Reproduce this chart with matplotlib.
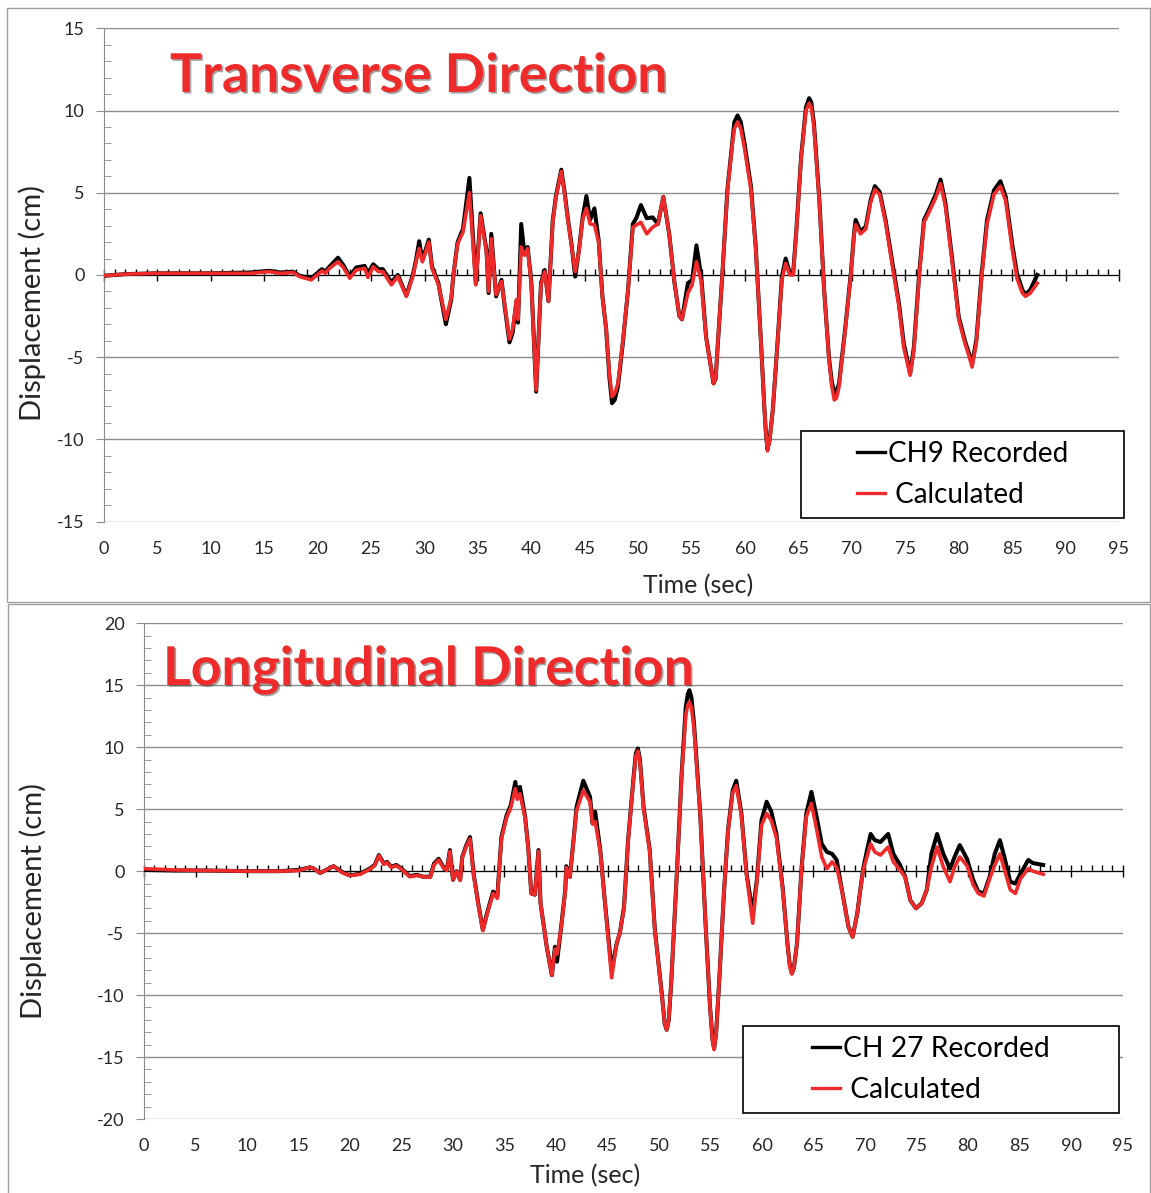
import numpy as np
import matplotlib.pyplot as plt
import matplotlib.patheffects as pe
from matplotlib.patches import Rectangle
from matplotlib.ticker import MultipleLocator

plt.rcParams['font.family'] = ['Lato', 'DejaVu Sans']
plt.rcParams['axes.unicode_minus'] = False

# ---- transverse direction (CH9) ----
trans_t = [0, 2, 5, 10, 13.7, 14.5, 15.5, 16.5, 17.7, 18.3,
           19.4, 20.4, 20.7, 21.1, 21.9, 22.4, 23.0, 23.6, 24.4, 24.7,
           25.2, 25.7, 26.1, 26.9, 27.5, 28.3, 28.9, 29.2, 29.5, 29.8,
           30.4, 30.7, 31.3, 31.6, 32.0, 32.5, 32.7, 33.1, 33.6, 34.2,
           34.8, 35.25, 35.8, 36.0, 36.25, 36.7, 37.2, 37.5, 37.95, 38.25,
           38.6, 38.75, 39.05, 39.35, 39.65, 40.0, 40.45, 40.9, 41.25, 41.6,
           42.0, 42.3, 42.8, 43.1, 43.4, 43.75, 44.1, 44.45, 44.8, 45.15,
           45.5, 45.9, 46.3, 46.65, 47.0, 47.55, 48.1, 48.55, 49.05, 49.5,
           49.85, 50.25, 50.8, 51.35, 51.85, 52.35, 52.9, 53.4, 53.85, 54.1,
           54.65, 55.05, 55.45, 55.9, 56.35, 57.05, 57.45, 57.9, 58.35, 58.85,
           59.3, 59.95, 60.55, 61.0, 61.5, 61.8, 62.1, 62.6, 63.05, 63.45,
           63.8, 64.2, 64.5, 64.8, 65.25, 65.7, 66.0, 66.45, 66.95, 67.4,
           67.85, 68.35, 68.8, 69.4, 69.9, 70.2, 70.35, 70.8, 71.3, 71.75,
           72.15, 72.6, 73.15, 73.8, 74.4, 74.85, 75.2, 75.45, 75.8, 76.3,
           76.75, 77.2, 77.85, 78.3, 78.75, 79.4, 80.0, 80.6, 80.95, 81.25,
           81.65, 82.15, 82.65, 83.3, 83.9, 84.4, 85.0, 85.45, 85.95, 86.25,
           86.7, 87.35,
           # extra readings around the big peaks
           59.0, 59.6, 61.95, 62.3, 66.2, 68.1, 68.55, 47.3, 47.8, 57.25]
trans_rec = [-0.05, 0.05, 0.1, 0.1, 0.15, 0.2, 0.25, 0.15, 0.2, -0.05,
             -0.2, 0.35, 0.2, 0.5, 1.05, 0.6, -0.1, 0.45, 0.55, 0.1,
             0.65, 0.35, 0.35, -0.45, 0.0, -1.25, 0.0, 0.9, 2.05, 0.9,
             2.15, 0.5, -0.5, -1.6, -3.0, -1.5, 0.0, 2.0, 2.8, 5.9,
             -0.5, 3.75, 1.5, -1.1, 2.5, -1.3, -0.3, -1.9, -4.1, -3.5,
             -1.6, -2.9, 3.1, 1.3, 1.7, -0.5, -7.1, -0.5, 0.3, -1.6,
             3.3, 4.8, 6.4, 5.1, 3.5, 1.9, -0.1, 1.5, 3.5, 4.8,
             3.35, 4.05, 2.1, -1.3, -3.3, -7.8, -6.8, -4.2, -0.9, 3.1,
             3.5, 4.25, 3.45, 3.5, 3.1, 4.75, 2.5, -0.5, -2.5, -2.7,
             -0.5, -0.3, 1.8, -0.1, -3.75, -6.6, -4.2, 0.3, 5.2, 8.4,
             9.7, 8.0, 5.4, 1.7, -4.2, -8.0, -10.6, -8.2, -4.0, -0.1,
             1.0, 0.1, 0.1, 2.7, 7.2, 10.2, 10.75, 9.2, 4.6, -0.9,
             -5.0, -7.2, -6.6, -3.1, 0.1, 2.5, 3.35, 2.65, 2.95, 4.55,
             5.4, 5.05, 3.35, 0.7, -1.7, -4.15, -5.2, -6.0, -4.4, 0.1,
             3.35, 3.95, 4.9, 5.8, 4.4, 0.9, -2.55, -4.05, -4.75, -5.4,
             -3.95, 0.1, 3.35, 5.15, 5.7, 4.75, 1.9, 0.1, -0.9, -1.2,
             -0.9, 0.0,
             9.3, 9.3, -9.6, -10.0, 10.5, -6.4, -7.1, -6.2, -7.6, -6.3]
trans_calc = [-0.05, 0.05, 0.1, 0.1, 0.1, 0.15, 0.2, 0.1, 0.15, -0.1,
              -0.3, 0.25, 0.1, 0.4, 0.8, 0.45, -0.2, 0.3, 0.4, -0.15,
              0.5, 0.2, 0.2, -0.6, -0.1, -1.3, -0.1, 0.8, 1.6, 0.8,
              2.0, 0.4, -0.6, -1.5, -2.7, -1.4, 0.0, 1.9, 2.6, 5.0,
              -0.6, 3.6, 1.4, -1.0, 2.2, -1.2, -0.4, -1.8, -3.9, -3.3,
              -1.5, -2.7, 1.7, 1.2, 1.6, -0.6, -7.0, -0.6, 0.2, -1.6,
              3.2, 4.7, 6.3, 5.0, 3.4, 1.8, 0.2, 1.4, 3.4, 4.05,
              3.1, 3.05, 2.0, -1.3, -3.3, -7.4, -6.6, -4.1, -0.9, 2.9,
              3.05, 3.2, 2.5, 2.9, 3.1, 4.75, 2.5, -0.5, -2.5, -2.7,
              -1.1, -0.6, 0.8, -0.4, -3.8, -6.6, -4.2, 0.3, 5.1, 8.2,
              9.3, 7.7, 5.2, 1.6, -4.2, -8.0, -10.7, -8.2, -4.0, -0.3,
              0.7, 0.0, 0.0, 2.6, 7.1, 10.0, 10.45, 9.0, 4.5, -0.9,
              -5.1, -7.6, -6.8, -3.2, 0.0, 2.4, 3.05, 2.5, 2.8, 4.4,
              5.2, 4.9, 3.2, 0.5, -1.9, -4.4, -5.4, -6.1, -4.6, -0.1,
              3.2, 3.8, 4.7, 5.55, 4.2, 0.7, -2.7, -4.2, -4.9, -5.6,
              -4.1, -0.1, 3.1, 4.9, 5.4, 4.5, 1.6, -0.2, -1.1, -1.3,
              -1.1, -0.5,
              8.9, 8.9, -9.6, -10.1, 10.2, -6.7, -7.5, -6.0, -7.2, -6.3]

# ---- longitudinal direction (CH 27) ----
long_t = [0, 3, 6, 10, 13.2, 15.0, 16.1, 16.4, 17.1, 18.4,
          19.3, 20.0, 21.0, 21.9, 22.4, 22.8, 23.3, 23.6, 24.0, 24.5,
          25.0, 25.8, 26.5, 27.1, 27.8, 28.15, 28.6, 29.05, 29.4, 29.7,
          30.0, 30.35, 30.7, 30.9, 31.25, 31.65, 32.0, 32.45, 32.9, 33.3,
          33.9, 34.3, 34.7, 35.2, 35.6, 36.05, 36.25, 36.5, 37.0, 37.3,
          37.6, 37.95, 38.3, 38.5, 39.1, 39.6, 39.9, 40.1, 40.5, 40.9,
          41.0, 41.35, 41.7, 42.0, 42.65, 43.3, 43.55, 43.8, 44.3, 44.75,
          45.4, 45.9, 46.2, 46.6, 47.0, 47.5, 47.95, 48.5, 49.1, 49.6,
          50.3, 50.75, 51.2, 51.7, 52.2, 52.6, 52.95, 53.4, 54.0, 54.55,
          54.95, 55.35, 55.85, 56.3, 56.7, 57.15, 57.5, 58.0, 58.5, 59.1,
          59.5, 59.95, 60.45, 60.9, 61.4, 62.0, 62.5, 62.9, 63.4, 63.85,
          64.3, 64.8, 65.3, 65.8, 66.3, 66.8, 67.25, 67.7, 68.4, 68.8,
          69.25, 69.8, 70.2, 70.55, 70.95, 71.5, 72.25, 72.75, 73.4, 73.9,
          74.4, 74.95, 75.5, 76.0, 76.45, 77.0, 77.6, 78.25, 78.7, 79.2,
          79.9, 80.5, 81.0, 81.55, 82.1, 82.6, 83.1, 83.6, 84.1, 84.6,
          85.1, 85.85, 86.3, 87.3,
          # extra readings around the big peaks
          47.75, 48.15, 50.55, 50.95, 52.8, 53.15, 55.2, 55.55, 62.7, 63.1]
long_rec = [0.1, 0.05, 0.05, 0.0, 0.0, 0.1, 0.3, 0.25, -0.15, 0.4,
            -0.1, -0.35, -0.2, 0.2, 0.5, 1.3, 0.6, 0.75, 0.35, 0.5,
            0.2, -0.4, -0.3, -0.45, -0.45, 0.6, 1.0, 0.35, 0.1, 1.7,
            -0.7, 0.0, -0.7, 1.15, 2.0, 2.75, -0.2, -2.6, -4.75, -3.4,
            -1.65, -2.05, 2.75, 4.5, 5.3, 7.2, 6.1, 6.8, 4.4, 1.95,
            -1.8, -1.9, 1.7, -2.6, -6.1, -8.4, -6.1, -7.3, -4.5, -1.5,
            0.4, -0.45, 2.5, 5.2, 7.3, 6.0, 3.85, 4.8, 1.7, -2.5,
            -8.0, -5.8, -5.0, -2.9, 2.5, 7.3, 9.9, 5.2, 1.7, -4.75,
            -10.1, -12.8, -8.8, -0.7, 7.9, 13.25, 14.6, 11.9, 4.65, -4.75,
            -10.9, -14.3, -8.8, -1.8, 3.3, 6.5, 7.3, 4.65, -0.2, -3.4,
            -0.7, 4.1, 5.6, 4.8, 3.0, -1.3, -6.1, -8.25, -5.8, 0.35,
            4.65, 6.4, 4.4, 2.2, 1.55, 1.4, 0.9, -1.25, -4.5, -5.3,
            -3.4, 0.1, 1.7, 3.0, 2.5, 2.35, 3.0, 1.4, 0.5, -0.45,
            -2.35, -3.0, -2.6, -1.5, 1.4, 3.0, 1.4, 0.2, 1.15, 2.1,
            1.0, -0.7, -1.65, -1.8, -0.45, 1.4, 2.5, 0.9, -0.85, -1.0,
            -0.2, 0.9, 0.65, 0.5,
            9.5, 9.0, -12.3, -12.0, 14.3, 14.0, -13.6, -13.0, -7.6, -7.8]
long_calc = [0.2, 0.1, 0.05, 0.0, 0.0, 0.05, 0.3, 0.25, -0.15, 0.4,
             -0.15, -0.35, -0.25, 0.15, 0.45, 1.25, 0.55, 0.7, 0.3, 0.45,
             0.15, -0.45, -0.35, -0.45, -0.5, 0.5, 0.9, 0.3, 0.05, 1.6,
             -0.7, 0.0, -0.75, 1.1, 1.9, 2.6, -0.3, -2.7, -4.8, -3.5,
             -1.8, -2.2, 2.6, 4.3, 5.1, 6.65, 5.8, 6.25, 4.3, 1.9,
             -1.8, -1.9, 1.6, -2.6, -6.1, -8.4, -6.3, -6.7, -4.6, -1.6,
             0.3, -0.5, 2.4, 4.9, 6.5, 5.6, 3.8, 4.0, 1.6, -2.5,
             -8.6, -5.8, -5.0, -3.0, 2.4, 7.2, 9.7, 5.1, 1.6, -4.8,
             -10.2, -12.8, -8.8, -0.7, 7.7, 12.6, 13.65, 11.5, 4.6, -4.75,
             -10.9, -14.4, -8.8, -1.8, 3.2, 6.3, 6.9, 4.5, -0.3, -4.2,
             -0.9, 3.7, 4.65, 4.1, 2.7, -1.4, -6.1, -8.3, -5.8, 0.3,
             4.4, 5.45, 3.4, 1.15, 0.2, 0.75, 0.3, -1.3, -4.5, -5.3,
             -3.4, 0.0, 1.2, 2.2, 1.55, 1.3, 1.95, 0.75, 0.1, -0.5,
             -2.35, -3.0, -2.6, -1.5, 0.35, 1.95, 0.35, -0.85, 0.35, 1.15,
             0.45, -1.1, -1.8, -2.0, -0.6, 0.5, 1.4, -0.05, -1.5, -1.8,
             -0.6, 0.2, 0.0, -0.25,
             9.3, 8.8, -12.3, -12.0, 13.4, 13.2, -13.7, -13.1, -7.7, -7.8]

W, H = 1151, 1193
fig = plt.figure(figsize=(W / 100, H / 100), dpi=100)

RED = '#ee2a2a'
GRID = '#8c8c8c'
TXT = '#262626'


def px_rect(x0, y0, x1, y1):
    # pixel box (top-left origin) -> figure fraction [left, bottom, width, height]
    return [x0 / W, 1 - y1 / H, (x1 - x0) / W, (y1 - y0) / H]


def panel(rect, t, rec, calc, ylim, rec_label, title, title_xy,
          xlabel_xy, ylabel_xy, legend_box, fs_legend):
    ax = fig.add_axes(rect)
    order = np.argsort(t)
    t = np.asarray(t)[order]
    ax.plot(t, np.asarray(rec)[order], color='black', lw=2.9, zorder=3,
            label=rec_label, solid_joinstyle='round')
    ax.plot(t, np.asarray(calc)[order], color=RED, lw=2.6, zorder=4,
            label=' Calculated', solid_joinstyle='round')
    ax.set_xlim(0, 95)
    ax.set_ylim(-ylim, ylim)

    ax.set_yticks(np.arange(-ylim, ylim + 1, 5))
    ax.yaxis.set_minor_locator(MultipleLocator(1))
    ax.grid(axis='y', color=GRID, lw=1.0)
    ax.set_axisbelow(True)
    for s in ('top', 'right'):
        ax.spines[s].set_visible(False)
    ax.spines['left'].set_color(GRID)
    ax.spines['bottom'].set_position(('data', 0))
    ax.spines['bottom'].set_color('black')

    ax.set_xticks(np.arange(0, 96, 5))
    ax.xaxis.set_minor_locator(MultipleLocator(1))
    ax.tick_params(axis='x', which='major', direction='inout', length=8,
                   width=1, labelbottom=False)
    ax.tick_params(axis='x', which='minor', direction='in', length=4, width=1)
    ax.tick_params(axis='y', which='major', direction='out', length=6,
                   color=GRID, labelsize=13, labelcolor=TXT, pad=8)
    ax.tick_params(axis='y', which='minor', direction='in', length=5,
                   color=GRID)

    # time labels sit under the bottom gridline, not at the zero axis
    sec = ax.secondary_xaxis('bottom')
    sec.set_xticks(np.arange(0, 96, 5))
    sec.tick_params(length=0, labelsize=13, labelcolor=TXT, pad=14)
    sec.spines['bottom'].set_visible(False)

    ax.text(*xlabel_xy, 'Time (sec)', transform=ax.transAxes, fontsize=18,
            color=TXT, ha='center', va='center')
    ax.text(*ylabel_xy, 'Displacement (cm)', transform=ax.transAxes,
            fontsize=21, color=TXT, ha='center', va='center', rotation=90)

    ax.text(*title_xy, title, transform=ax.transAxes, fontsize=38.5,
            fontweight='bold', color=RED, ha='left', va='baseline',
            path_effects=[pe.SimplePatchShadow(offset=(1.2, -1.2),
                                               shadow_rgbFace='#333333',
                                               alpha=0.45),
                          pe.Normal()])

    # legend: plain black box with centred entries
    bx0, by0, bx1, by1 = legend_box
    fig.add_artist(Rectangle((bx0 / W, 1 - by1 / H), (bx1 - bx0) / W,
                             (by1 - by0) / H, transform=fig.transFigure,
                             facecolor='white', edgecolor='black', lw=1.2,
                             zorder=5))
    leg = ax.legend(loc='center',
                    bbox_to_anchor=((bx0 + bx1) / 2 / W,
                                    1 - (by0 + by1) / 2 / H),
                    bbox_transform=fig.transFigure,
                    frameon=False, fontsize=fs_legend, handlelength=1.0,
                    handletextpad=0.1, labelspacing=0.55, borderpad=0)
    for line in leg.get_lines():
        line.set_linewidth(2.4)
    leg.set_zorder(6)
    fig.add_artist(leg)
    return ax


panel(px_rect(104, 28.3, 1119, 521.6), trans_t, trans_rec, trans_calc, 15,
      'CH9 Recorded', 'Transverse Direction', (0.065, 0.871),
      (0.585, -0.13), (-0.071, 0.444), (801, 431, 1124, 518), 20)

panel(px_rect(144, 623.3, 1122.5, 1119), long_t, long_rec, long_calc, 20,
      'CH 27 Recorded', 'Longitudinal Direction', (0.0194, 0.8755),
      (0.451, -0.115), (-0.1135, 0.44), (743, 1026, 1119, 1113), 20.3)

# outer frames around the two charts
for box in ((7, 8, 1150, 601.5), (8, 603.5, 1150, 1196)):
    x0, y0, x1, y1 = box
    fig.add_artist(Rectangle((x0 / W, 1 - y1 / H), (x1 - x0) / W,
                             (y1 - y0) / H, transform=fig.transFigure,
                             fill=False, edgecolor='#a0a0a0', lw=1.0))

fig.savefig('out.png', dpi=100)
